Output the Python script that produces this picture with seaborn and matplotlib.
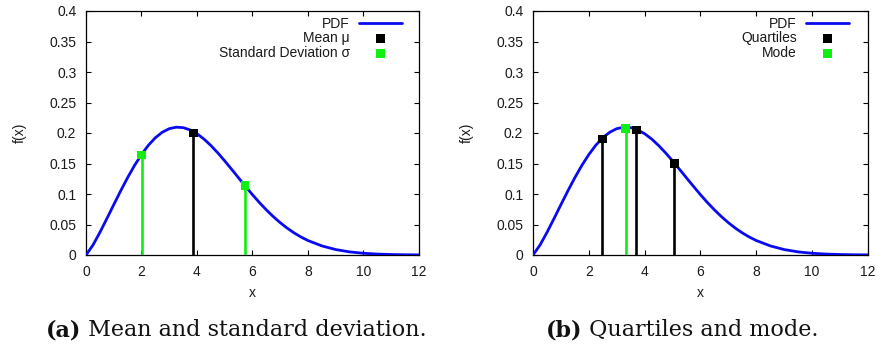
import matplotlib
matplotlib.use("Agg")
import matplotlib.pyplot as plt
import seaborn as sns
import pandas as pd

# Probability density sampled along x
x_vals = [0.0, 0.25, 0.5, 0.75, 1.0, 1.25, 1.5, 1.75, 2.0, 2.25, 2.5, 2.75, 3.0,
          3.25, 3.5, 3.75, 4.0, 4.25, 4.5, 4.75, 5.0, 5.25, 5.5, 5.75, 6.0,
          6.25, 6.5, 6.75, 7.0, 7.25, 7.5, 7.75, 8.0, 8.5, 9.0, 9.5, 10.0,
          10.5, 11.0, 11.5, 12.0]
pdf_vals = [0.0, 0.0162, 0.0370, 0.0595, 0.0825, 0.1052, 0.1269, 0.1469, 0.1647,
            0.1800, 0.1922, 0.2013, 0.2071, 0.2095, 0.2088, 0.2051, 0.1988,
            0.1901, 0.1795, 0.1674, 0.1542, 0.1404, 0.1263, 0.1124, 0.0988,
            0.0859, 0.0739, 0.0629, 0.0529, 0.0440, 0.0362, 0.0294, 0.0237,
            0.0149, 0.0089, 0.0051, 0.0028, 0.0015, 0.0008, 0.0004, 0.0002]

# Summary statistics (position, density at that position)
mean_x, mean_y = [3.87], [0.200]
sd_x, sd_y = [2.01, 5.73], [0.164, 0.114]
quart_x, quart_y = [2.48, 3.70, 5.06], [0.190, 0.205, 0.150]
mode_x, mode_y = [3.32], [0.208]

x_ticks = [0, 2, 4, 6, 8, 10, 12]
y_ticks = [0, 0.05, 0.1, 0.15, 0.2, 0.25, 0.3, 0.35, 0.4]
y_ticklabels = ["0", "0.05", "0.1", "0.15", "0.2", "0.25", "0.3", "0.35", "0.4"]

BLUE = "#0a0af0"
GREEN = "#11ee11"
BLACK = "#000000"
TXT = "#1a1a1a"
FS = 10

sns.set_theme(style="white")
plt.rcParams["font.family"] = ["Liberation Sans", "DejaVu Sans"]

fig = plt.figure(figsize=(8.79, 3.44), dpi=100)
W, H = 879, 344
ax_a = fig.add_axes([86 / W, 1 - 255 / H, 333 / W, 244 / H])
ax_b = fig.add_axes([533 / W, 1 - 255 / H, 335 / W, 244 / H])

pdf_df = pd.DataFrame({"x": x_vals, "f": pdf_vals})


def draw_base(ax):
    sns.lineplot(data=pdf_df, x="x", y="f", ax=ax, color=BLUE, lw=2.0,
                 label="PDF", zorder=3)


def draw_stems(ax, xs, ys, color, label):
    ax.vlines(xs, 0, ys, colors=color, lw=1.9, zorder=4)
    sns.scatterplot(x=xs, y=ys, ax=ax, color=color, marker="s", s=40,
                    edgecolor="none", label=label, zorder=5)


def style_axes(ax, leg_x):
    ax.set_xlim(0, 12)
    ax.set_ylim(0, 0.4)
    ax.set_xticks(x_ticks)
    ax.set_xticklabels([str(t) for t in x_ticks])
    ax.set_yticks(y_ticks)
    ax.set_yticklabels(y_ticklabels)
    ax.tick_params(direction="in", length=3.5, width=0.8, color="black",
                   top=True, right=True, bottom=True, left=True,
                   labelsize=FS, pad=7, labelcolor=TXT)
    for sp in ax.spines.values():
        sp.set_color("black")
        sp.set_linewidth(0.9)
    ax.set_xlabel("x", fontsize=FS, color=TXT, labelpad=5)
    ax.set_ylabel("f(x)", fontsize=FS, color=TXT, labelpad=16)
    leg = ax.legend(loc="upper right", frameon=False, markerfirst=False,
                    fontsize=FS, handlelength=3.1, handletextpad=0.65,
                    labelspacing=0.05, borderaxespad=0, borderpad=0,
                    bbox_to_anchor=(leg_x, 0.977))
    for t in leg.get_texts():
        t.set_color(TXT)


draw_base(ax_a)
draw_stems(ax_a, mean_x, mean_y, BLACK, "Mean μ")
draw_stems(ax_a, sd_x, sd_y, GREEN, "Standard Deviation σ")
style_axes(ax_a, 0.949)

draw_base(ax_b)
draw_stems(ax_b, quart_x, quart_y, BLACK, "Quartiles")
draw_stems(ax_b, mode_x, mode_y, GREEN, "Mode")
style_axes(ax_b, 0.943)

# Sub-figure captions: bold tag followed by regular text
cap_kw = dict(fontsize=16, family=["DejaVu Serif", "Liberation Serif"],
              va="baseline", color="#111111")
base_y = 1 - 336 / H
fig.canvas.draw()
renderer = fig.canvas.get_renderer()
for cx, tag, rest in [(46, "(a)", " Mean and standard deviation."),
                      (546, "(b)", " Quartiles and mode.")]:
    t1 = fig.text(cx / W, base_y, tag, fontweight="bold", **cap_kw)
    bb = t1.get_window_extent(renderer)
    fig.text(bb.x1 / W, base_y, rest, **cap_kw)

fig.savefig("out.png", dpi=100)
